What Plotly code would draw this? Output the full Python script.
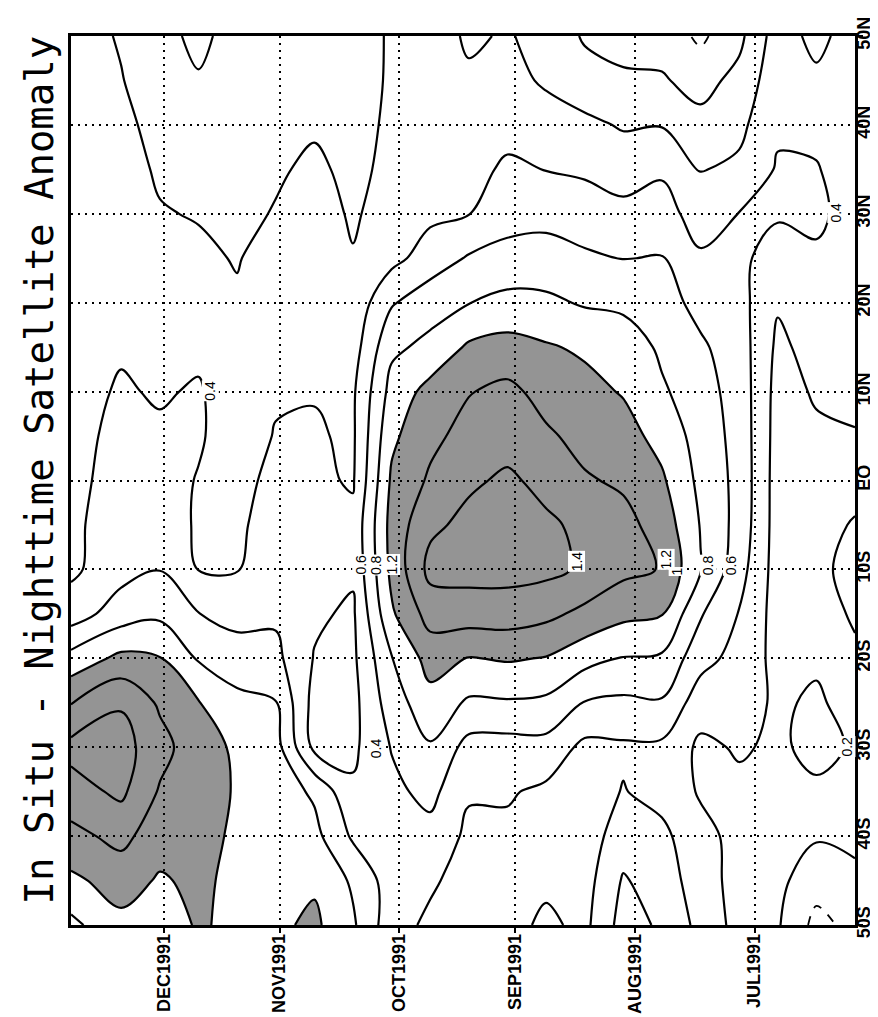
import plotly.graph_objects as go

# ---- time axis (10-day samples) and latitudes ----
dates = ["1991-06-05", "1991-06-15", "1991-06-25", "1991-07-05", "1991-07-15",
         "1991-07-25", "1991-08-04", "1991-08-14", "1991-08-24", "1991-09-03",
         "1991-09-13", "1991-09-23", "1991-10-03", "1991-10-13", "1991-10-23",
         "1991-11-02", "1991-11-12", "1991-11-22", "1991-12-02", "1991-12-12",
         "1991-12-25"]
lats_top_down = [50, 45, 40, 35, 30, 25, 20, 15, 10, 5, 0,
                 -5, -10, -15, -20, -25, -30, -35, -40, -45, -50]

# ---- anomaly values (deg C), one list per latitude, columns follow `dates` ----
lat_50N = [0.30, 0.14, 0.30, -0.05, -0.24, -0.08, -0.07, -0.02, 0.12, 0.22, 0.17, 0.30, 0.22, 0.12, 0.10, 0.10, 0.10, -0.06, 0.08, 0.19, 0.25]
lat_45N = [0.30, 0.24, 0.33, 0.06, -0.07, 0.02, 0.03, 0.07, 0.17, 0.27, 0.23, 0.32, 0.22, 0.13, 0.13, 0.12, 0.11, 0.02, 0.14, 0.205, 0.26]
lat_40N = [0.32, 0.36, 0.37, 0.15, 0.06, 0.19, 0.18, 0.25, 0.30, 0.34, 0.28, 0.34, 0.23, 0.14, 0.18, 0.15, 0.12, 0.12, 0.16, 0.23, 0.27]
lat_35N = [0.32, 0.41, 0.42, 0.24, 0.19, 0.37, 0.32, 0.37, 0.395, 0.43, 0.34, 0.35, 0.24, 0.16, 0.23, 0.18, 0.14, 0.15, 0.18, 0.26, 0.28]
lat_30N = [0.32, 0.44, 0.41, 0.405, 0.30, 0.49, 0.45, 0.50, 0.54, 0.53, 0.395, 0.36, 0.27, 0.18, 0.27, 0.21, 0.16, 0.19, 0.21, 0.29, 0.29]
lat_25N = [0.30, 0.37, 0.36, 0.42, 0.43, 0.61, 0.595, 0.63, 0.68, 0.66, 0.62, 0.49, 0.34, 0.21, 0.30, 0.27, 0.19, 0.23, 0.25, 0.32, 0.30]
lat_20N = [0.28, 0.31, 0.22, 0.47, 0.54, 0.68, 0.75, 0.78, 0.84, 0.86, 0.795, 0.72, 0.58, 0.26, 0.33, 0.31, 0.22, 0.30, 0.29, 0.35, 0.31]
lat_15N = [0.26, 0.27, 0.16, 0.50, 0.63, 0.76, 0.93, 0.97, 1.02, 1.07, 1.03, 0.85, 0.76, 0.31, 0.36, 0.35, 0.25, 0.36, 0.33, 0.38, 0.32]
lat_10N = [0.24, 0.22, 0.13, 0.52, 0.68, 0.83, 0.985, 1.06, 1.13, 1.25, 1.19, 1.07, 0.87, 0.37, 0.39, 0.38, 0.28, 0.42, 0.38, 0.42, 0.33]
lat_05N = [0.19, 0.17, 0.12, 0.53, 0.72, 0.93, 1.08, 1.14, 1.23, 1.33, 1.27, 1.15, 0.96, 0.37, 0.42, 0.41, 0.31, 0.42, 0.43, 0.45, 0.34]
lat_EQ  = [0.08, 0.12, 0.11, 0.54, 0.75, 1.03, 1.17, 1.22, 1.35, 1.43, 1.37, 1.23, 1.03, 0.38, 0.44, 0.46, 0.33, 0.39, 0.47, 0.47, 0.35]
lat_05S = [-0.02, 0.08, 0.11, 0.53, 0.79, 1.12, 1.26, 1.36, 1.43, 1.50, 1.45, 1.36, 1.07, 0.45, 0.48, 0.50, 0.36, 0.37, 0.53, 0.50, 0.36]
lat_10S = [-0.08, 0.06, 0.11, 0.48, 0.81, 1.19, 1.25, 1.37, 1.45, 1.47, 1.47, 1.46, 1.05, 0.43, 0.46, 0.54, 0.39, 0.395, 0.595, 0.53, 0.36]
lat_15S = [-0.03, 0.10, 0.12, 0.39, 0.62, 1.01, 1.05, 1.15, 1.25, 1.30, 1.30, 1.28, 0.97, 0.37, 0.43, 0.57, 0.53, 0.605, 0.76, 0.70, 0.50]
lat_20S = [0.04, 0.17, 0.14, 0.33, 0.47, 0.77, 0.79, 0.87, 0.99, 1.02, 0.99, 1.08, 0.79, 0.36, 0.39, 0.65, 0.70, 0.78, 1.01, 1.05, 0.87]
lat_25S = [0.12, 0.23, 0.17, 0.28, 0.29, 0.58, 0.56, 0.59, 0.76, 0.78, 0.77, 0.93, 0.70, 0.34, 0.33, 0.81, 0.85, 1.01, 1.17, 1.38, 1.19]
lat_30S = [0.18, 0.25, 0.17, 0.22, 0.16, 0.36, 0.37, 0.35, 0.53, 0.52, 0.53, 0.78, 0.61, 0.36, 0.35, 0.88, 0.97, 1.08, 1.27, 1.48, 1.46]
lat_35S = [0.14, 0.17, 0.12, 0.16, 0.18, 0.33, 0.41, 0.30, 0.36, 0.42, 0.42, 0.66, 0.55, 0.43, 0.77, 0.90, 0.98, 1.10, 1.18, 1.44, 1.32]
lat_40S = [0.04, 0.02, 0.08, 0.14, 0.26, 0.45, 0.50, 0.30, 0.30, 0.36, 0.36, 0.53, 0.52, 0.57, 0.86, 0.92, 0.96, 1.08, 1.08, 1.26, 1.14]
lat_45S = [-0.04, -0.12, 0.05, 0.12, 0.30, 0.50, 0.62, 0.32, 0.36, 0.33, 0.32, 0.43, 0.50, 0.77, 0.97, 0.94, 0.95, 1.04, 0.98, 1.08, 0.96]
lat_50S = [-0.14, -0.26, 0.02, 0.13, 0.34, 0.57, 0.68, 0.35, 0.44, 0.33, 0.32, 0.36, 0.48, 0.83, 1.04, 0.96, 0.96, 1.02, 0.90, 0.95, 0.75]

# ---- tick labels ----
month_ticks = ["1991-07-01", "1991-08-01", "1991-09-01", "1991-10-01", "1991-11-01", "1991-12-01"]
month_labels = ["JUL1991", "AUG1991", "SEP1991", "OCT1991", "NOV1991", "DEC1991"]
lat_ticks = [-50, -40, -30, -20, -10, 0, 10, 20, 30, 40, 50]
lat_labels = ["50S", "40S", "30S", "20S", "10S", "EQ", "10N", "20N", "30N", "40N", "50N"]

# ---- in-line contour labels ----
clabel_dates = ["1991-11-19", "1991-10-07", "1991-06-10", "1991-06-07",
                "1991-10-11", "1991-10-07", "1991-10-03", "1991-08-16",
                "1991-07-24", "1991-07-21", "1991-07-13", "1991-07-07"]
clabel_lats = [10.1, -30.1, 30.1, -29.9, -9.5, -9.5, -9.5, -9.1, -8.9, -10.2, -9.5, -9.5]
clabel_text = ["0.4", "0.4", "0.4", "0.2", "0.6", "0.8", "1.2", "1.4", "1.2", "1", "0.8", "0.6"]

title_text = "In Situ - Nighttime Satellite Anomaly"

rows_top_down = [lat_50N, lat_45N, lat_40N, lat_35N, lat_30N, lat_25N, lat_20N,
                 lat_15N, lat_10N, lat_05N, lat_EQ, lat_05S, lat_10S, lat_15S,
                 lat_20S, lat_25S, lat_30S, lat_35S, lat_40S, lat_45S, lat_50S]
lats = lats_top_down[::-1]
z = rows_top_down[::-1]

SMOOTH = 1.0
fig = go.Figure()

# shading of values above 1.0 (constraint keeps z<1 unshaded)
fig.add_trace(go.Contour(
    x=dates, y=lats, z=z,
    contours=dict(type="constraint", operation="<", value=1.0),
    fillcolor="rgba(0,0,0,0.42)",
    line=dict(width=0, smoothing=SMOOTH, color="rgba(0,0,0,0)"),
    showscale=False, hoverinfo="skip", showlegend=False))

# solid contours (0 and positive)
fig.add_trace(go.Contour(
    x=dates, y=lats, z=z,
    contours=dict(coloring="none", start=0.0, end=1.4, size=0.2, showlabels=False),
    line=dict(color="black", width=2.2, smoothing=SMOOTH),
    showscale=False, hoverinfo="skip", showlegend=False))

# dashed negative contours
fig.add_trace(go.Contour(
    x=dates, y=lats, z=z,
    contours=dict(coloring="none", start=-0.6, end=-0.2, size=0.2, showlabels=False),
    line=dict(color="black", width=1.8, dash="dash", smoothing=SMOOTH),
    showscale=False, hoverinfo="skip", showlegend=False))

for d, la, t in zip(clabel_dates, clabel_lats, clabel_text):
    fig.add_annotation(x=d, y=la, xref="x", yref="y", text=t, showarrow=False,
                       textangle=-90, bgcolor="white", borderpad=0,
                       font=dict(family="Liberation Sans", size=14, color="black"))

fig.add_annotation(x=-0.04, y=0.512, xref="paper", yref="paper", text=title_text,
                   showarrow=False, textangle=-90, xanchor="center", yanchor="middle",
                   font=dict(family="DejaVu Sans Mono", size=39, color="black"))

axis_common = dict(showline=True, linewidth=2.5, linecolor="black", mirror=True,
                   ticks="outside", ticklen=5, tickwidth=2, tickcolor="black",
                   showgrid=True, gridcolor="black", gridwidth=1.5, griddash="2px,5px",
                   zeroline=False, tickangle=-90,
                   tickfont=dict(family="Liberation Sans", size=18, color="black", weight="bold"))

fig.update_layout(
    width=878, height=1017,
    margin=dict(l=63, r=31, t=28, b=100, autoexpand=False),
    paper_bgcolor="white", plot_bgcolor="white",
    showlegend=False,
    xaxis=dict(type="date", range=["1991-12-25", "1991-06-05"],
               tickmode="array", tickvals=month_ticks, ticktext=month_labels,
               automargin=False, ticklabelstandoff=-6, **axis_common),
    yaxis=dict(range=[-50, 50], side="right",
               tickmode="array", tickvals=lat_ticks, ticktext=lat_labels,
               automargin=False, ticklabelstandoff=-14, **axis_common),
)

fig.write_html("out.html")
